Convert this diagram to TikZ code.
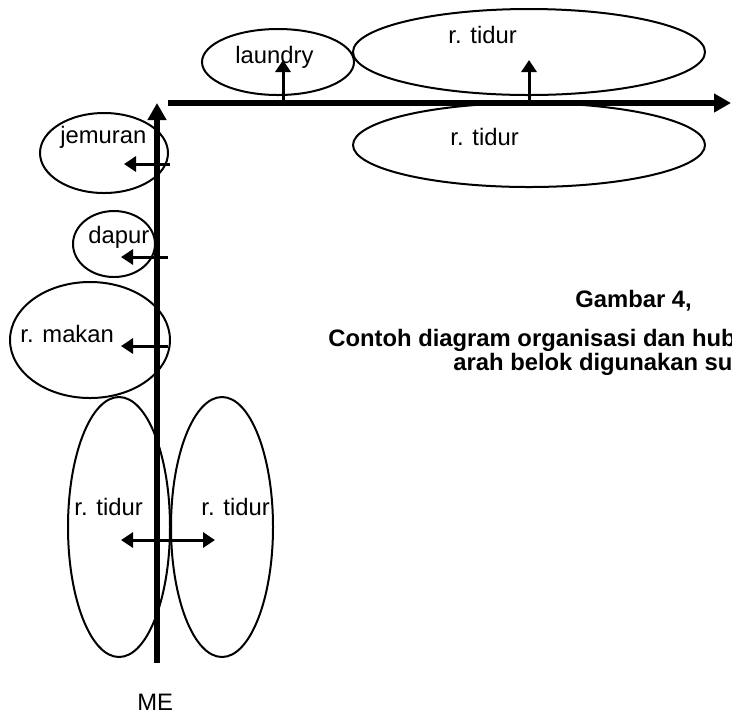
\documentclass[tikz,border=0pt]{standalone}
\usepackage{fontspec}
\setmainfont{Liberation Sans}
\usetikzlibrary{shapes.geometric}
\usetikzlibrary{arrows.meta}
\tikzset{
  room/.style={ellipse, draw=black, line width=1pt, inner sep=0pt},
  roomname/.style={anchor=base west, inner sep=0pt, font=\fontsize{11.9}{14}\selectfont},
  caption/.style={anchor=base west, inner sep=0pt, font=\fontsize{11.9}{14}\selectfont\bfseries},
  spine/.style={line width=2.75pt, -{Triangle[width=9pt,length=8.5pt]}},
  link/.style={line width=1.5pt, -{Triangle[width=7.5pt,length=6pt]}},
  twolink/.style={line width=1.5pt, {Triangle[width=7.5pt,length=6pt]}-{Triangle[width=7.5pt,length=6pt]}}
}

\begin{document}
\begin{tikzpicture}[x=0.5pt, y=-0.5pt]
\useasboundingbox (0,0) rectangle (732,714);
\clip (0,0) rectangle (732,714);

% rooms along the upper corridor
\node[room, minimum width=76pt, minimum height=33pt](laundry) at (278,62) {};
\node[room, minimum width=176pt, minimum height=43pt](tidurA) at (529,52) {};
\node[room, minimum width=176pt, minimum height=42pt](tidurB) at (529,145) {};
\node[roomname](laundrytext) at (235,63) {laundry};
\node[roomname](tidurAtext) at (448,43) {r. tidur};
\node[roomname](tidurBtext) at (450,145) {r. tidur};

% rooms along the main corridor
\node[room, minimum width=64pt, minimum height=40pt](jemuran) at (104,153) {};
\node[room, minimum width=41pt, minimum height=33pt](dapur) at (114,244) {};
\node[room, minimum width=80pt, minimum height=58pt](makan) at (90,340) {};
\node[room, minimum width=51pt, minimum height=130pt](tidurC) at (119,527) {};
\node[room, minimum width=51pt, minimum height=130pt](tidurD) at (222,527) {};
\node[roomname](jemurantext) at (60,143) {jemuran};
\node[roomname](dapurtext) at (88,243) {dapur};
\node[roomname](makantext) at (20,342) {r. makan};
\node[roomname](tidurCtext) at (74,515) {r. tidur};
\node[roomname](tidurDtext) at (201,515) {r. tidur};
\node[roomname](me) at (137,710) {ME};

% corridors
\coordinate (spinebottom) at (157,663);
\coordinate (spinetop) at (157,103);
\coordinate (beltstart) at (168,103);
\coordinate (beltend) at (731,103);
\draw[spine] (spinebottom) -- (spinetop);
\draw[spine] (beltstart) -- (beltend);

% openings into the rooms
\coordinate (laundryfrom) at (283,100);
\coordinate (laundryto) at (283,60);
\coordinate (tidurAfrom) at (529,103);
\coordinate (tidurAto) at (529,60);
\coordinate (jemuranfrom) at (170,164);
\coordinate (jemuranto) at (124,164);
\coordinate (dapurfrom) at (168,257);
\coordinate (dapurto) at (121,257);
\coordinate (makanfrom) at (168,346);
\coordinate (makanto) at (121,346);
\coordinate (tidurCto) at (121,540);
\coordinate (tidurDto) at (215,540);
\draw[link] (laundryfrom) -- (laundryto);
\draw[link] (tidurAfrom) -- (tidurAto);
\draw[link] (jemuranfrom) -- (jemuranto);
\draw[link] (dapurfrom) -- (dapurto);
\draw[link] (makanfrom) -- (makanto);
\draw[twolink] (tidurCto) -- (tidurDto);

% caption
\node[caption](gambar) at (575,307) {Gambar 4,};
\node[caption](captionA) at (328,346) {Contoh diagram organisasi dan hub};
\node[caption](captionB) at (453,370) {arah belok digunakan su};

\end{tikzpicture}
\end{document}
